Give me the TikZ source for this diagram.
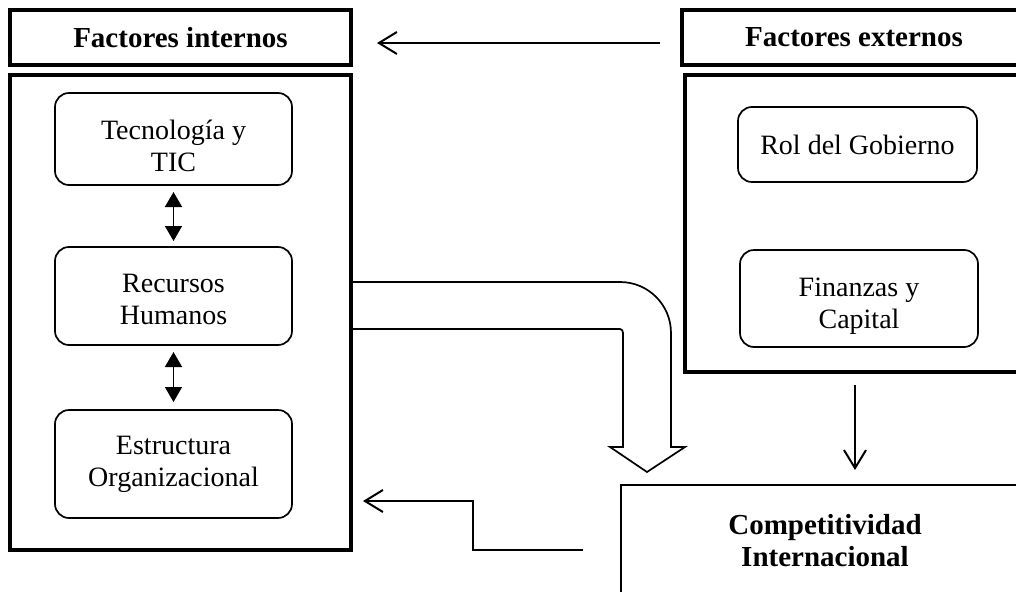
\documentclass[tikz,border=0pt]{standalone}
\usepackage{fontspec}
\setmainfont{Liberation Serif}
\usetikzlibrary{arrows.meta}
\begin{document}
\begin{tikzpicture}[x=1pt,y=-1pt,
  header/.style={draw, line width=3.2pt, inner sep=0pt, outer sep=0pt,
    font=\fontsize{29}{32}\selectfont\bfseries},
  frame/.style={draw, line width=3.2pt, inner sep=0pt, outer sep=0pt},
  item/.style={draw, line width=1.7pt, rounded corners=14pt, inner sep=0pt,
    outer sep=0pt, align=center, font=\fontsize{28}{32}\selectfont},
  itemtext/.style={align=center, inner sep=0pt, font=\fontsize{28}{32}\selectfont},
  result/.style={draw, line width=2pt, inner sep=0pt, outer sep=0pt,
    align=center, font=\fontsize{29}{32}\selectfont\bfseries},
  flow/.style={line width=2pt,
    -{Straight Barb[length=18pt,width=22pt,line width=2pt]}},
  link/.style={line width=1.5pt,
    {Triangle[length=15pt,width=17pt]}-{Triangle[length=15pt,width=17pt]}},
  block/.style={line width=1.7pt, line join=miter}
]
\clip (0,0) rectangle (1016,591);
\fill[white] (0,0) rectangle (1016,591);

% internal factors
\node[header, minimum width=341pt, minimum height=55pt] (intHead) at (180.5,37.5) {Factores internos};
\node[frame, minimum width=341pt, minimum height=475pt] (intBox) at (180.5,312.5) {};
\node[item, minimum width=237pt, minimum height=92pt,
  label={[itemtext, yshift=-7pt]center:{Tecnología y\\TIC}}] (tic) at (173.5,139) {};
\node[item, minimum width=237pt, minimum height=98pt,
  label={[itemtext, yshift=-3pt]center:{Recursos\\Humanos}}] (rrhh) at (173.5,296) {};
\node[item, minimum width=237pt, minimum height=108pt] (estr) at (173.5,464) {Estructura\\Organizacional};

% external factors
\node[header, minimum width=344pt, minimum height=55pt] (extHead) at (854,37.5) {Factores externos};
\node[frame, minimum width=344pt, minimum height=297pt] (extBox) at (857,223.5) {};
\node[item, minimum width=239pt, minimum height=75pt] (gob) at (857.5,144.5) {Rol del Gobierno};
\node[item, minimum width=238pt, minimum height=97pt,
  label={[itemtext, yshift=-8pt]center:{Finanzas y\\Capital}}] (fin) at (859,298.5) {};

% result
\node[result, minimum width=408pt, minimum height=112pt] (comp) at (825,541) {Competitividad\\Internacional};

% links between internal factors
\draw[link] ([yshift=-7pt]tic.south) -- ([yshift=6pt]rrhh.north);
\draw[link] ([yshift=-7pt]rrhh.south) -- ([yshift=8pt]estr.north);

% arrows
\draw[flow] ([xshift=-22pt,yshift=-5.5pt]extHead.west) -- ([xshift=26pt,yshift=-5.5pt]intHead.east);
\draw[flow] ([xshift=-2pt,yshift=-13pt]extBox.south) -- ++(0,85);
\coordinate (backOut) at (583,550);
\coordinate (backIn) at (363,501);
\draw[flow] (backOut) -- ++(-110,0) |- (backIn);

% bent block arrow from internal factors to the result
\draw[block] (351,282) -- (620,282)
  .. controls (648.2,282) and (671,304.8) .. (671,333)
  -- (671,447) -- (685,447) -- (647,472) -- (610,447) -- (623,447)
  -- (623,333) .. controls (623,331) and (622,329) .. (620,329) -- (351,329);
\end{tikzpicture}
\end{document}
